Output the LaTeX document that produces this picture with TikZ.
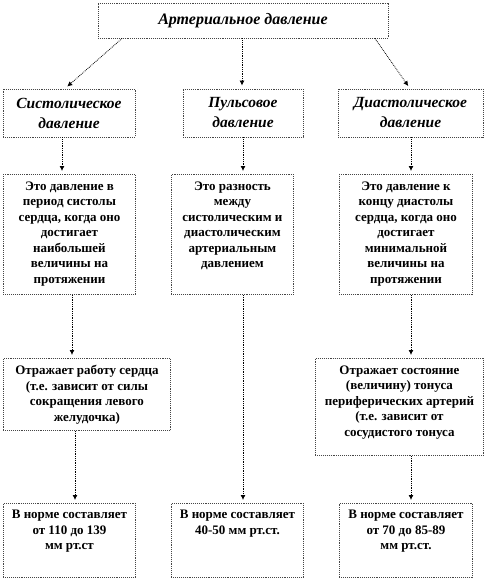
\documentclass[tikz,border=0pt]{standalone}
\usepackage{fontspec}
\setmainfont{Liberation Serif}
\usetikzlibrary{arrows.meta}
\tikzset{
  boxline/.style={rectangle, draw=gray!55!black, densely dotted, line width=0.9pt, fill=white},
  headbox/.style={boxline, align=center, inner sep=0pt, font=\fontsize{15.5}{20}\selectfont\bfseries\itshape},
  textbox/.style 2 args={boxline, anchor=north west, inner sep=0pt,
     execute at begin node={\begin{minipage}[t][#2][t]{#1}\centering\fontsize{13}{15.5}\selectfont\bfseries\vspace*{7pt}},
     execute at end node={\end{minipage}}},
  arr/.style={-{Latex[length=5pt,width=5pt]}, densely dotted, line width=0.8pt, shorten >=3pt},
}
\begin{document}
\begin{tikzpicture}[x=1pt, y=-1pt]
\useasboundingbox (0,0) rectangle (486,579);
% top
\node[headbox, minimum width=290pt, minimum height=35pt, font=\fontsize{16}{20}\selectfont\bfseries\itshape] (art) at (243,20.5) {Артериальное давление};
% second row
\node[headbox, minimum width=132pt, minimum height=48pt] (sys) at (69,113) {Систолическое\\давление};
\node[headbox, minimum width=120pt, minimum height=48pt] (pul) at (243,113) {Пульсовое\\давление};
\node[headbox, minimum width=145pt, minimum height=48pt] (dia) at (410.5,113) {Диастолическое\\давление};
% definitions
\node[textbox={132pt}{120pt}] (sysdef) at (3,174) {Это давление в\\период систолы\\сердца, когда оно\\достигает\\наибольшей\\величины на\\протяжении};
\node[textbox={122pt}{120pt}] (puldef) at (171,174) {Это разность\\между\\систолическим и\\диастолическим\\артериальным\\давлением};
\node[textbox={133pt}{120pt}] (diadef) at (339,174) {Это давление к\\концу диастолы\\сердца, когда оно\\достигает\\минимальной\\величины на\\протяжении};
% what it shows
\node[textbox={167pt}{72pt}] (syswork) at (3,358) {Отражает работу сердца\\(т.е. зависит от силы\\сокращения левого\\желудочка)};
\node[textbox={168pt}{97pt}] (diawork) at (315,358) {Отражает состояние\\(величину) тонуса\\периферических артерий\\(т.е. зависит от\\сосудистого тонуса};
% norms
\node[textbox={132pt}{74pt}] (sysnorm) at (3,503) {В норме составляет\\от 110 до 139\\мм рт.ст};
\node[textbox={132pt}{74pt}] (pulnorm) at (171,503) {В норме составляет\\40-50 мм рт.ст.};
\node[textbox={133pt}{74pt}] (dianorm) at (339,503) {В норме составляет\\от 70 до 85-89\\мм рт.ст.};
% arrows
\draw[arr] (art.south -| 122,0) -- (sys.north -| 65,0);
\draw[arr] (art.south -| 242,0) -- (pul.north -| 242,0);
\draw[arr] (art.south -| 375,0) -- (dia.north -| 410,0);
\draw[arr] (sys.south -| 62,0) -- (sysdef.north -| 62,0);
\draw[arr] (pul.south -| 243,0) -- (puldef.north -| 243,0);
\draw[arr] (dia.south -| 411,0) -- (diadef.north -| 411,0);
\draw[arr] (sysdef.south -| 72,0) -- (syswork.north -| 72,0);
\draw[arr] (diadef.south -| 411,0) -- (diawork.north -| 411,0);
\draw[arr] (puldef.south -| 243,0) -- (pulnorm.north -| 243,0);
\draw[arr] (syswork.south -| 75,0) -- (sysnorm.north -| 75,0);
\draw[arr] (diawork.south -| 411,0) -- (dianorm.north -| 411,0);
\end{tikzpicture}
\end{document}
